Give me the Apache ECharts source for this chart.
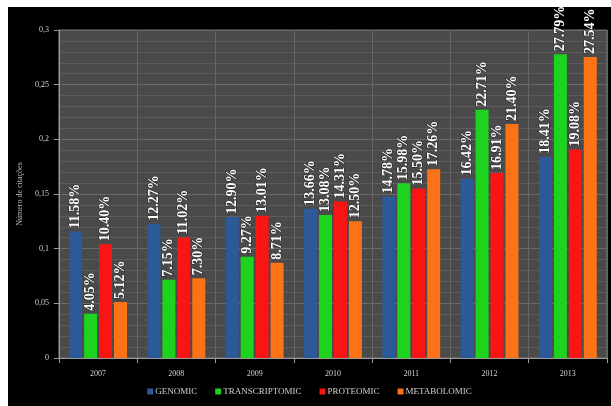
<!DOCTYPE html>
<html>
<head>
<meta charset="utf-8">
<script src="https://cdn.jsdelivr.net/npm/echarts@6/dist/echarts.min.js"></script>
<style>
  html, body { margin: 0; padding: 0; background: #fff; }
  #chart { position: absolute; left: 8px; top: 7px; width: 603px; height: 399px; background: #000; }
</style>
</head>
<body>
<div id="chart"></div>
<script>
const years = ["2007", "2008", "2009", "2010", "2011", "2012", "2013"];
const seriesNames = ["GENOMIC", "TRANSCRIPTOMIC", "PROTEOMIC", "METABOLOMIC"];
const genomic = [11.58, 12.27, 12.90, 13.66, 14.78, 16.42, 18.41];
const transcriptomic = [4.05, 7.15, 9.27, 13.08, 15.98, 22.71, 27.79];
const proteomic = [10.40, 11.02, 13.01, 14.31, 15.50, 16.91, 19.08];
const metabolomic = [5.12, 7.30, 8.71, 12.50, 17.26, 21.40, 27.54];
const yTicks = ["0", "0,05", "0,1", "0,15", "0,2", "0,25", "0,3"];

const colors = ["#2c5a98", "#1ed31e", "#fa1414", "#fb7316"];
const values = [genomic, transcriptomic, proteomic, metabolomic];

const chart = echarts.init(document.querySelector("#chart"));

chart.setOption({
  backgroundColor: "#000",
  animation: false,
  grid: {
    left: 44, right: 4, top: 23, bottom: 48,
    show: true, backgroundColor: "#4a4a4a", borderColor: "#777", borderWidth: 1,
  },
  legend: {
    bottom: 5,
    left: "center",
    itemWidth: 6,
    itemHeight: 6,
    itemGap: 18,
    icon: "rect",
    textStyle: { color: "#d0d0d0", fontFamily: "Liberation Serif", fontSize: 9, padding: [0, 0, 0, -3] },
    data: seriesNames,
  },
  xAxis: {
    type: "category",
    data: years,
    axisLine: { lineStyle: { color: "#999" } },
    axisTick: { show: true, lineStyle: { color: "#999" } },
    axisLabel: { color: "#d0d0d0", fontFamily: "Liberation Serif", fontSize: 8, margin: 12 },
    splitLine: { show: true, lineStyle: { color: "#666" } },
  },
  yAxis: {
    type: "value",
    min: 0,
    max: 0.3,
    interval: 0.05,
    name: "Número de citações",
    nameLocation: "middle",
    nameGap: 28,
    nameTextStyle: { color: "#bbb", fontFamily: "Liberation Serif", fontSize: 8 },
    axisLine: { show: true, lineStyle: { color: "#999" } },
    axisTick: { show: true, lineStyle: { color: "#999" } },
    axisLabel: {
      color: "#d0d0d0", fontFamily: "Liberation Serif", fontSize: 8, margin: 10,
      formatter: (v) => yTicks[Math.round(v / 0.05)],
    },
    splitLine: { lineStyle: { color: "#6a6a6a" } },
    minorTick: { show: false, splitNumber: 5 },
    minorSplitLine: { show: true, lineStyle: { color: "#5c5c5c" } },
  },
  series: seriesNames.map((name, i) => ({
    name,
    type: "bar",
    barWidth: 13,
    barGap: "15%",
    itemStyle: { color: colors[i] },
    data: values[i].map((v) => v / 100),
    label: {
      show: true,
      position: "top",
      rotate: 90,
      align: "left",
      verticalAlign: "middle",
      distance: 3,
      color: "#fff",
      fontFamily: "Liberation Serif",
      fontWeight: "bold",
      fontSize: 14,
      textBorderColor: "rgba(0,0,0,0.5)",
      textBorderWidth: 1,
      formatter: (p) => values[i][p.dataIndex].toFixed(2) + "%",
    },
  })),
});
</script>
</body>
</html>
